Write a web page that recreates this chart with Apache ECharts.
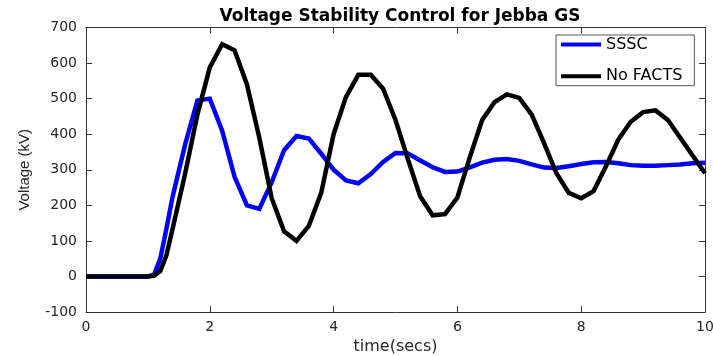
<!DOCTYPE html>
<html>
<head>
<meta charset="utf-8">
<script src="https://cdn.jsdelivr.net/npm/echarts@6/dist/echarts.min.js"></script>
<style>
html,body{margin:0;padding:0;background:#fff;}
#chart{width:713px;height:356px;}
</style>
</head>
<body>
<div id="chart"></div>
<script>
var times = [0,0.2,0.4,0.6,0.8,1.0,1.1,1.2,1.3,1.4,1.6,1.8,2.0,2.2,2.4,2.6,2.8,3.0,3.2,3.4,3.6,3.8,4.0,4.2,4.4,4.6,4.8,5.0,5.2,5.4,5.6,5.8,6.0,6.2,6.4,6.6,6.8,7.0,7.2,7.4,7.6,7.8,8.0,8.2,8.4,8.6,8.8,9.0,9.2,9.4,9.6,9.8,10.0];
var sssc = [0,0,0,0,0,0,5,50,135,225,370,495,500,410,280,200,190,265,355,395,388,345,300,270,262,288,322,347,346,326,307,294,295,307,320,328,330,325,315,306,305,310,316,321,322,318,313,311,311,313,315,318,320];
var noFacts = [0,0,0,0,0,0,2,15,60,135,288,455,588,653,636,540,390,220,127,100,142,235,400,505,567,567,528,440,330,225,172,175,222,335,440,490,512,502,455,375,290,235,220,240,310,385,435,462,467,440,390,340,290];
var xTicks = [0,2,4,6,8,10];
var yTicks = [-100,0,100,200,300,400,500,600,700];
var seriesNames = ['SSSC','No FACTS'];

function pairs(xs, ys){ return xs.map(function(x,i){ return [x, ys[i]]; }); }

var chart = echarts.init(document.getElementById('chart'), null, {renderer:'canvas'});
var axisCol = '#333333';
var tickFont = {fontFamily:'DejaVu Sans', fontSize:14, color:'#262626'};
chart.setOption({
  animation:false,
  backgroundColor:'#ffffff',
  title:{
    text:'Voltage Stability Control for Jebba GS',
    left:395, top:3, textAlign:'center',
    textStyle:{fontFamily:'DejaVu Sans', fontWeight:'bold', fontSize:17, color:'#000'}
  },
  legend:{
    orient:'vertical', left:556, top:35,
    data:seriesNames,
    icon:'rect',
    itemWidth:40, itemHeight:4, itemGap:14.7,
    padding:[1,12,1,5],
    backgroundColor:'#fff', borderColor:'#555', borderWidth:1,
    textStyle:{fontFamily:'DejaVu Sans', fontSize:16, lineHeight:17, color:'#000'}
  },
  grid:{left:86, right:8, top:27.5, bottom:44, containLabel:false, outerBoundsMode:'none'},
  xAxis:[{
    type:'value', min:xTicks[0], max:xTicks[xTicks.length-1], interval:2,
    name:'time(secs)', nameLocation:'middle', nameGap:24,
    nameTextStyle:{fontFamily:'DejaVu Sans', fontSize:16, color:'#262626'},
    axisLine:{show:true, onZero:false, lineStyle:{color:axisCol, width:1}},
    axisTick:{show:true, inside:true, length:6, lineStyle:{color:axisCol}},
    axisLabel:Object.assign({margin:8}, tickFont),
    splitLine:{show:false}
  },{
    type:'value', position:'top', min:xTicks[0], max:xTicks[xTicks.length-1], interval:2,
    axisLine:{show:true, onZero:false, lineStyle:{color:axisCol, width:1}},
    axisTick:{show:true, inside:true, length:6, lineStyle:{color:axisCol}},
    axisLabel:{show:false}, splitLine:{show:false}
  }],
  yAxis:[{
    type:'value', min:yTicks[0], max:yTicks[yTicks.length-1], interval:100,
    name:'Voltage (kV)', nameLocation:'middle', nameGap:54,
    nameTextStyle:{fontFamily:'Liberation Sans', fontSize:15, color:'#262626'},
    axisLine:{show:true, onZero:false, lineStyle:{color:axisCol, width:1}},
    axisTick:{show:true, inside:true, length:6, lineStyle:{color:axisCol}},
    axisLabel:Object.assign({margin:9}, tickFont),
    splitLine:{show:false}
  },{
    type:'value', position:'right', min:yTicks[0], max:yTicks[yTicks.length-1], interval:100,
    axisLine:{show:true, onZero:false, lineStyle:{color:axisCol, width:1}},
    axisTick:{show:true, inside:true, length:6, lineStyle:{color:axisCol}},
    axisLabel:{show:false}, splitLine:{show:false}
  }],
  series:[{
    name:seriesNames[0], type:'line', data:pairs(times, sssc),
    xAxisIndex:0, yAxisIndex:0,
    symbol:'none', smooth:false,
    lineStyle:{color:'#0000ff', width:4.5, join:'miter'}, itemStyle:{color:'#0000ff'}
  },{
    name:seriesNames[1], type:'line', data:pairs(times, noFacts),
    xAxisIndex:0, yAxisIndex:0,
    symbol:'none', smooth:false,
    lineStyle:{color:'#000000', width:4.5, join:'miter'}, itemStyle:{color:'#000000'}
  }]
});
</script>
</body>
</html>
